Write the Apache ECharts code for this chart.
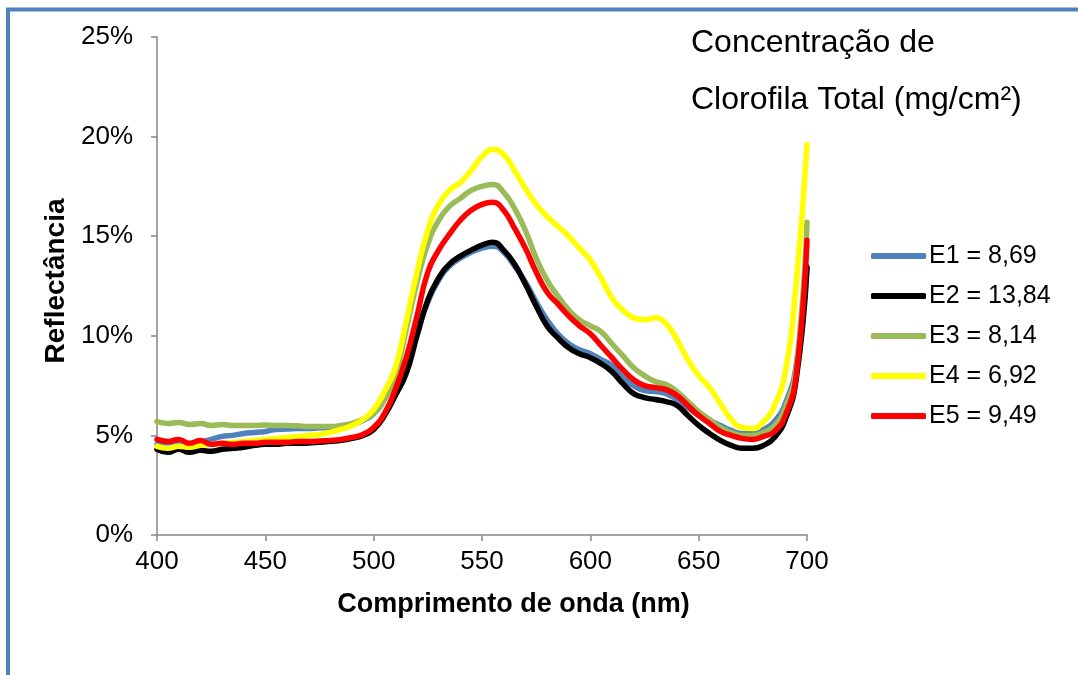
<!DOCTYPE html>
<html>
<head>
<meta charset="utf-8">
<script src="https://cdn.jsdelivr.net/npm/echarts@6/dist/echarts.min.js"></script>
<style>
  html, body { margin: 0; padding: 0; background: #fff; }
  #chart { width: 1078px; height: 675px; }
</style>
</head>
<body>
<div id="chart"></div>
<script>
// comprimento de onda (nm)
const wavelengths = [400, 405, 410, 415, 420, 425, 430, 435, 440, 445, 450, 455, 460, 465, 470, 475, 480, 485, 490, 495,
  500, 505, 510, 515, 520, 525, 530, 535, 540, 545, 550, 555, 560, 565, 570, 575, 580, 585, 590, 595,
  600, 605, 610, 615, 620, 625, 630, 635, 640, 645, 650, 655, 660, 665, 670, 675, 680, 685, 690, 695, 700];

// reflectância (%)
const e1 = [4.55, 4.5, 4.6, 4.5, 4.65, 4.8, 4.95, 5.0, 5.1, 5.15, 5.2, 5.3, 5.32, 5.35, 5.35, 5.38, 5.4, 5.45, 5.55, 5.75,
  6.1, 6.9, 7.9, 8.8, 10.2, 11.7, 12.8, 13.5, 13.9, 14.2, 14.4, 14.5, 14.2, 13.5, 12.7, 11.7, 10.8, 10.1, 9.6, 9.3,
  9.1, 8.8, 8.5, 7.9, 7.5, 7.25, 7.2, 7.1, 6.8, 6.4, 6.0, 5.75, 5.5, 5.25, 5.1, 5.1, 5.3, 5.7, 6.6, 8.5, 13.5];
const e2 = [4.3, 4.15, 4.3, 4.15, 4.25, 4.2, 4.3, 4.35, 4.4, 4.5, 4.55, 4.55, 4.6, 4.6, 4.62, 4.65, 4.7, 4.75, 4.85, 5.0,
  5.3, 6.0, 7.0, 8.1, 10.0, 11.8, 12.9, 13.6, 14.0, 14.3, 14.55, 14.7, 14.3, 13.6, 12.6, 11.5, 10.5, 9.9, 9.4, 9.1,
  8.9, 8.6, 8.2, 7.6, 7.1, 6.9, 6.8, 6.7, 6.5, 6.0, 5.5, 5.1, 4.75, 4.5, 4.35, 4.35, 4.5, 4.9, 5.8, 7.8, 13.4];
const e3 = [5.7, 5.6, 5.65, 5.55, 5.6, 5.5, 5.55, 5.5, 5.5, 5.5, 5.52, 5.5, 5.5, 5.48, 5.45, 5.45, 5.45, 5.5, 5.6, 5.8,
  6.1, 6.8, 8.0, 10.3, 12.7, 14.6, 15.8, 16.5, 16.9, 17.3, 17.5, 17.6, 17.2, 16.4, 15.3, 13.9, 12.8, 12.0, 11.3, 10.8,
  10.5, 10.2, 9.6, 9.0, 8.4, 8.0, 7.7, 7.55, 7.2, 6.7, 6.2, 5.8, 5.4, 5.15, 5.0, 5.0, 5.15, 5.5, 6.4, 8.4, 15.7];
const e4 = [4.45, 4.35, 4.45, 4.4, 4.5, 4.55, 4.6, 4.65, 4.7, 4.75, 4.8, 4.85, 4.9, 4.95, 5.0, 5.05, 5.15, 5.3, 5.5, 5.8,
  6.3, 7.2, 8.4, 10.7, 13.2, 15.3, 16.6, 17.3, 17.7, 18.3, 19.0, 19.35, 19.1, 18.3, 17.4, 16.6, 16.0, 15.5, 15.0, 14.4,
  13.8, 12.9, 11.9, 11.3, 10.9, 10.8, 10.9, 10.6, 9.8, 8.8, 8.0, 7.4, 6.6, 5.8, 5.4, 5.35, 5.7, 6.5, 8.2, 12.6, 19.6];
const e5 = [4.8, 4.7, 4.8, 4.6, 4.75, 4.55, 4.6, 4.55, 4.6, 4.6, 4.65, 4.65, 4.65, 4.7, 4.7, 4.72, 4.75, 4.8, 4.9, 5.05,
  5.4, 6.1, 7.3, 8.9, 11.0, 13.2, 14.3, 15.1, 15.8, 16.3, 16.6, 16.7, 16.3, 15.4, 14.4, 13.2, 12.2, 11.6, 11.0, 10.5,
  10.1, 9.5, 8.9, 8.3, 7.8, 7.5, 7.4, 7.3, 7.0, 6.5, 6.0, 5.6, 5.2, 5.0, 4.85, 4.8, 4.95, 5.2, 6.0, 8.0, 14.8];

const names = ['E1 = 8,69', 'E2 = 13,84', 'E3 = 8,14', 'E4 = 6,92', 'E5 = 9,49'];
const colors = ['#4F81BD', '#000000', '#9BBB59', '#FFFF00', '#FF0000'];
const values = [e1, e2, e3, e4, e5];

const font = 'Liberation Sans, Arial, sans-serif';
const myChart = echarts.init(document.getElementById('chart'));

const option = {
  backgroundColor: '#fff',
  animation: false,
  textStyle: { fontFamily: font },
  color: colors,
  grid: { left: 157, right: 271, top: 37, bottom: 140, containLabel: false },
  title: {
    text: 'Concentração de\nClorofila Total (mg/cm²)',
    left: 691,
    top: 15,
    padding: 0,
    textStyle: { fontFamily: font, fontSize: 32, fontWeight: 'normal', color: '#000', lineHeight: 57 }
  },
  legend: {
    orient: 'vertical',
    left: 871,
    top: 243,
    padding: 0,
    itemGap: 14,
    itemWidth: 55,
    itemHeight: 6,
    icon: 'roundRect',
    data: names,
    textStyle: { fontFamily: font, fontSize: 25, color: '#000', lineHeight: 26, padding: [0, 0, 0, -2] }
  },
  xAxis: {
    type: 'value',
    min: 400,
    max: 700,
    interval: 50,
    name: 'Comprimento de onda (nm)',
    nameLocation: 'middle',
    nameGap: 56,
    nameTextStyle: { fontFamily: font, fontSize: 27, fontWeight: 'bold', color: '#000', padding: [0, 0, 0, 63] },
    axisLine: { show: true, lineStyle: { color: '#868686', width: 1.5 } },
    axisTick: { show: true, length: 6, lineStyle: { color: '#868686', width: 1.5 } },
    axisLabel: { fontSize: 26, color: '#000', margin: 14 },
    splitLine: { show: false }
  },
  yAxis: {
    type: 'value',
    min: 0,
    max: 25,
    interval: 5,
    name: 'Reflectância',
    nameLocation: 'middle',
    nameGap: 86,
    nameRotate: 90,
    nameTextStyle: { fontFamily: font, fontSize: 28, fontWeight: 'bold', color: '#000', padding: [0, 0, 0, 10] },
    axisLine: { show: true, lineStyle: { color: '#868686', width: 1.5 } },
    axisTick: { show: true, length: 6, lineStyle: { color: '#868686', width: 1.5 } },
    axisLabel: { fontSize: 26, color: '#000', margin: 24, formatter: '{value}%' },
    splitLine: { show: false }
  },
  graphic: [
    {
      type: 'rect',
      shape: { x: 8, y: 9.5, width: 1200, height: 1000 },
      style: { fill: 'none', stroke: '#4F81BD', lineWidth: 4 },
      z: 100
    }
  ],
  series: values.map((v, i) => ({
    name: names[i],
    type: 'line',
    smooth: 0.5,
    showSymbol: false,
    symbol: 'none',
    lineStyle: { width: 5.5, color: colors[i], cap: 'round' },
    itemStyle: { color: colors[i] },
    data: wavelengths.map((w, j) => [w, v[j]])
  }))
};

myChart.setOption(option);
</script>
</body>
</html>
